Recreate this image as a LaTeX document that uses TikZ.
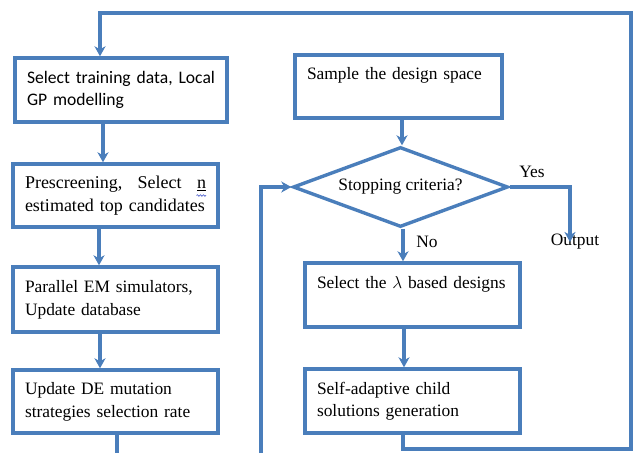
\documentclass[tikz,border=0pt]{standalone}
\usepackage{fontspec}
\setmainfont{Liberation Serif}
\newfontfamily\calibrilike{Carlito}
\usetikzlibrary{shapes.geometric,arrows.meta,decorations.pathmorphing}
\definecolor{flowblue}{RGB}{74,126,187}
\definecolor{squiggle}{RGB}{60,80,200}
\begin{document}
\begin{tikzpicture}[x=1pt,y=-1pt,
  font=\fontsize{17.4}{22.5}\selectfont,
  flow/.style={draw=flowblue,line width=3.4pt},
  stepbox/.style={flow,rectangle,fill=white,inner xsep=12pt,inner ysep=0pt,align=left},
  decision/.style={flow,shape=diamond,aspect=2.69,fill=white,inner sep=0pt},
  link/.style={flowblue,line width=3.4pt,-{Stealth[length=10pt,width=11pt,inset=3pt]}},
  wire/.style={flowblue,line width=3.4pt},
  tag/.style={inner sep=0pt}]
\useasboundingbox (0,0) rectangle (636,453);

% left column: surrogate-model loop
\node[stepbox,minimum width=212pt,minimum height=64pt,text width=188pt,font=\calibrilike\fontsize{17.6}{22.5}\selectfont]
  (train) at (121,90) {\strut Select training data, Local\\\strut GP modelling};
\node[stepbox,minimum width=205pt,minimum height=63pt,text width=181pt,font=\fontsize{18}{22.5}\selectfont]
  (prescreen) at (115.5,195.5) {\strut Prescreening,\hfill Select\hfill \underline{n}\\\strut\mbox{estimated top candidates}};
\node[stepbox,minimum width=205pt,minimum height=65pt,text width=181pt]
  (parallel) at (115.5,299.5) {\strut Parallel EM simulators,\\\strut Update database};
\node[stepbox,minimum width=205pt,minimum height=63pt,text width=181pt]
  (mutation) at (115.5,401.5) {\strut Update DE mutation\\\strut strategies selection rate};

% right column: main evolutionary loop
\node[stepbox,minimum width=207pt,minimum height=63pt,text width=183pt]
  (sample) at (398.5,86.5) {\strut Sample the design space\\\strut};
\node[decision,minimum width=215pt,minimum height=80pt]
  (stop) at (400.5,187) {Stopping criteria?};
\node[stepbox,minimum width=215pt,minimum height=64pt,text width=191pt]
  (lambda) at (412.5,295) {\strut\mbox{Select the $\lambda$ based designs}\\\strut};
\node[stepbox,minimum width=215pt,minimum height=64pt,text width=191pt]
  (child) at (412.5,401) {\strut Self-adaptive child\\\strut solutions generation};

% branch labels and exit
\node[tag] (yes) at (532,172) {Yes};
\node[tag] (no) at (427,242) {No};
\node[tag,anchor=north] (output) at (575,234) {Output};

% free ends running past the lower edge
\coordinate (mutout) at (117,453);
\coordinate (loopin) at (261,453);
\coordinate (yescorner) at (570,187);

% connectors
\draw[link] (train.south -| 103,0) -- (prescreen.north -| 103,0);
\draw[link] (prescreen.south -| 99,0) -- (parallel.north -| 99,0);
\draw[link] (parallel.south -| 100,0) -- (mutation.north -| 100,0);
\draw[wire] (mutation.south -| mutout) -- (mutout);
\draw[link] (loopin) |- (stop.west);
\draw[link] (sample.south -| 402,0) -- (stop.north -| 402,0);
\draw[link] (stop.south -| 403,0) -- (lambda.north -| 403,0);
\draw[link] (lambda.south -| 404,0) -- (child.north -| 404,0);
\draw[link] (stop.east) -- (yescorner) -- ([yshift=-8pt]output.north -| yescorner);
\draw[link] (child.south -| 403,0) -- (403,449) -- (631,449) -- (631,13) -| (train.north -| 100,0);

% proofing squiggle under the single-letter variable
\draw[squiggle,line width=0.6pt,decorate,decoration={snake,amplitude=0.8pt,segment length=3pt}]
  (196.5,195.5) -- (206,195.5);
\end{tikzpicture}
\end{document}
